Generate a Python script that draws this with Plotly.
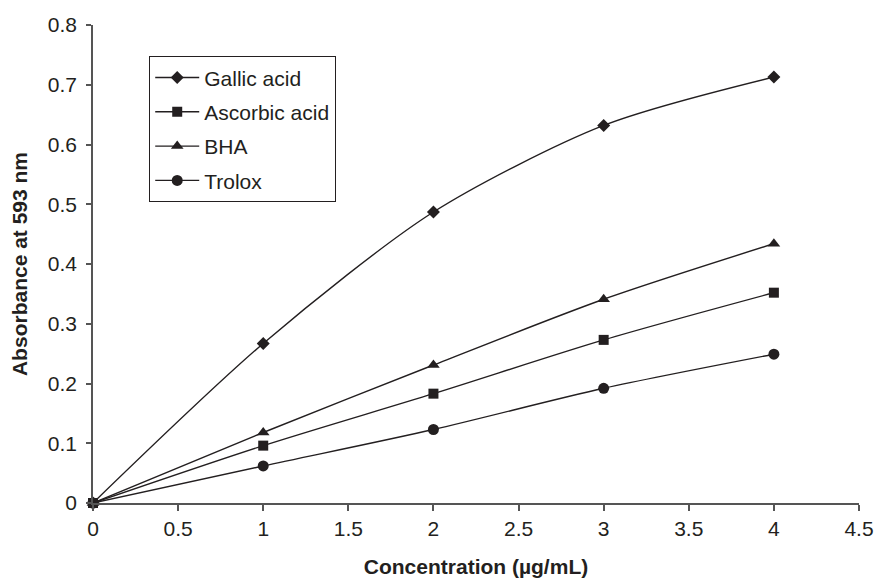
import plotly.graph_objects as go

concentration = [0, 1, 2, 3, 4]
gallic_acid = [0, 0.267, 0.487, 0.632, 0.713]
ascorbic_acid = [0, 0.096, 0.183, 0.273, 0.352]
bha = [0, 0.118, 0.231, 0.341, 0.434]
trolox = [0, 0.062, 0.123, 0.192, 0.249]

series_names = ["Gallic acid", "Ascorbic acid", "BHA", "Trolox"]
series_values = [gallic_acid, ascorbic_acid, bha, trolox]
symbols = ["diamond", "square", "triangle-up", "circle"]
sizes = [10, 10, 11, 11]

x_ticks = [0, 0.5, 1, 1.5, 2, 2.5, 3, 3.5, 4, 4.5]
x_tick_labels = ["0", "0.5", "1", "1.5", "2", "2.5", "3", "3.5", "4", "4.5"]
y_ticks = [0, 0.1, 0.2, 0.3, 0.4, 0.5, 0.6, 0.7, 0.8]
y_tick_labels = ["0", "0.1", "0.2", "0.3", "0.4", "0.5", "0.6", "0.7", "0.8"]

ink = "#231f20"
axis_grey = "#555555"
font_family = "Liberation Sans, Arial, sans-serif"

fig = go.Figure()
for name, vals, sym, sz in zip(series_names, series_values, symbols, sizes):
    fig.add_trace(go.Scatter(
        x=concentration, y=vals, name=name, mode="lines+markers",
        line=dict(color=ink, width=1.4, shape="spline", smoothing=0.8),
        marker=dict(symbol=sym, size=sz, color=ink),
        legendgroup=name,
        cliponaxis=False,
    ))

fig.update_layout(
    width=875, height=581,
    margin=dict(l=93, r=16, t=25, b=78),
    paper_bgcolor="white", plot_bgcolor="white",
    font=dict(family=font_family, size=21, color=ink),
    showlegend=True,
    legend=dict(
        x=0.073, y=0.935, xanchor="left", yanchor="top",
        bordercolor=ink, borderwidth=1.3, bgcolor="white",
        font=dict(size=21, color=ink),
        tracegroupgap=4,
        itemwidth=44,
    ),
    xaxis=dict(
        range=[0, 4.5], tickmode="array", tickvals=x_ticks, ticktext=x_tick_labels,
        showgrid=False, zeroline=False, showline=True, linecolor=axis_grey, linewidth=1.5,
        ticks="outside", ticklen=6, tickcolor=axis_grey, tickwidth=1.5,
        tickfont=dict(size=21, color=ink),
        ticklabeloverflow="allow",
        automargin=False,
        title=dict(text="<b>Concentration (µg/mL)</b>", font=dict(size=21, color=ink), standoff=20),
    ),
    yaxis=dict(
        range=[0, 0.8], tickmode="array", tickvals=y_ticks, ticktext=y_tick_labels,
        showgrid=False, zeroline=False, showline=True, linecolor=axis_grey, linewidth=1.5,
        ticks="outside", ticklen=5, tickcolor=axis_grey, tickwidth=1.5,
        ticklabelstandoff=5,
        tickfont=dict(size=21, color=ink),
        automargin=False,
        title=dict(text="<b>Absorbance at 593 nm</b>", font=dict(size=21, color=ink), standoff=14),
    ),
)

# remove the default page margin so the figure sits at the window's top-left corner
fig.write_html(
    "out.html",
    config={"displayModeBar": False},
    post_script="document.body.style.margin='0';document.body.style.overflow='hidden';",
)
